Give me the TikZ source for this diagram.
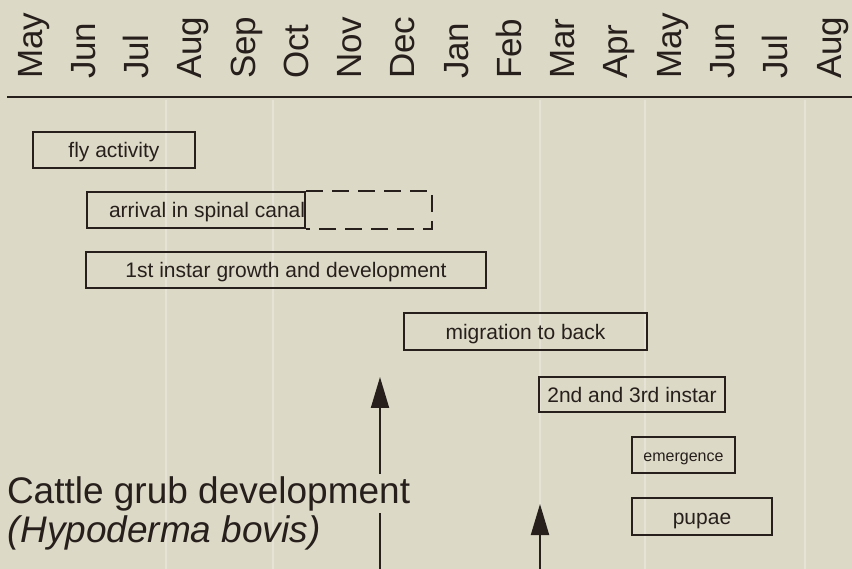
\documentclass[tikz,border=0pt]{standalone}
\usepackage{fontspec}
\setmainfont{Liberation Sans}
\usepackage{xcolor}
\usetikzlibrary{arrows.meta}
\definecolor{paper}{RGB}{221,217,199}
\definecolor{ink}{RGB}{38,31,28}

\begin{document}
\begin{tikzpicture}[x=1pt,y=-1pt,line width=2pt,
  bar/.style={draw=ink,rectangle,inner sep=0pt,minimum height=36pt,text height=18pt,text depth=2pt,text=ink,font=\fontsize{21}{25}\selectfont},
  month/.style={rotate=90,anchor=base west,inner sep=0pt,text=ink,font=\fontsize{35}{40}\selectfont},
  arr/.style={draw=ink,line width=2pt,-{Triangle[length=31pt,width=18pt]}},
  ghost/.style={draw=paper!75!white,line width=1.2pt}]
\fill[paper] (0,0) rectangle (852,569);
\useasboundingbox (0,0) rectangle (852,569);
\foreach \gx in {166,273,540,645,805}
  \draw[ghost] (\gx,100) -- (\gx,569);

\foreach \m [count=\i from 0] in {May,Jun,Jul,Aug,Sep,Oct,Nov,Dec,Jan,Feb,Mar,Apr,May,Jun,Jul,Aug}
  \node[month] (m\i) at (42+53.27*\i,80) {\m};
\draw[ink] (7,97) -- (852,97);

\node[bar,minimum width=162pt] (fly) at (114,150) {fly activity};
\node[bar,anchor=west] (arrival) at (86,210) {\hspace{22pt}arrival in spinal canal};
\draw[ink,dash pattern=on 17pt off 9pt] (arrival.north east) -- ++(126,0) |- (arrival.south east);
\node[bar,minimum width=400pt] (first) at (286,270) {1st instar growth and development};
\node[bar,minimum width=243pt,minimum height=37pt] (migr) at (525.5,331.5) {migration to back};
\node[bar,minimum width=186pt,minimum height=35pt] (second) at (632,394.5) {2nd and 3rd instar};
\node[bar,minimum width=103pt,text height=14pt,font=\fontsize{16}{19}\selectfont] (emerg) at (683.5,455) {emergence};
\node[bar,minimum width=140pt,minimum height=37pt] (pupae) at (702,516.5) {pupae};

\node[anchor=base west,inner xsep=0pt,inner ysep=1pt,text=ink,font=\fontsize{37}{44}\selectfont] (title) at (6,503) {Cattle grub development};
\node[anchor=base west,inner sep=0pt,text=ink,font=\fontsize{37}{44}\selectfont\itshape] (species) at (7,542) {(Hypoderma bovis)};

\coordinate (foot1) at (380,569);
\coordinate (tip1) at (380,377);
\draw[ink] (foot1) -- (foot1 |- title.south);
\draw[arr] (foot1 |- title.north) -- (tip1);
\coordinate (foot2) at (540,569);
\coordinate (tip2) at (540,504);
\draw[arr] (foot2) -- (tip2);

\end{tikzpicture}
\end{document}
